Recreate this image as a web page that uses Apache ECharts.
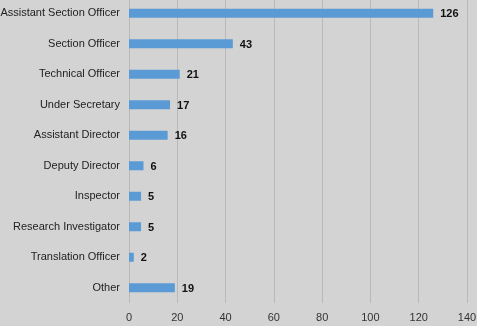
<!DOCTYPE html>
<html>
<head>
<meta charset="utf-8">
<style>
  html, body { margin: 0; padding: 0; background: #d3d3d3; }
  #chart { width: 477px; height: 326px; }
</style>
<script src="https://cdn.jsdelivr.net/npm/echarts@6/dist/echarts.min.js"></script>
</head>
<body>
<div id="chart"></div>
<script>
// Staff counts by designation (listed top to bottom)
const designations = [
  'Assistant Section Officer',
  'Section Officer',
  'Technical Officer',
  'Under Secretary',
  'Assistant Director',
  'Deputy Director',
  'Inspector',
  'Research Investigator',
  'Translation Officer',
  'Other'
];
const counts = [126, 43, 21, 17, 16, 6, 5, 5, 2, 19];
const axisTicks = [0, 20, 40, 60, 80, 100, 120, 140];

const chart = echarts.init(document.getElementById('chart'), null, { renderer: 'canvas' });
const font = '"Liberation Sans", Arial, sans-serif';

chart.setOption({
  backgroundColor: '#d3d3d3',
  animation: false,
  grid: {
    left: 129, right: 10, top: -2, bottom: 23,
    containLabel: false,
    outerBoundsMode: 'none'
  },
  xAxis: {
    type: 'value',
    min: axisTicks[0],
    max: axisTicks[axisTicks.length - 1],
    interval: axisTicks[1] - axisTicks[0],
    axisLine: { show: false },
    axisTick: { show: false },
    splitLine: { show: true, lineStyle: { color: '#b9b9b9', width: 1 } },
    axisLabel: { color: '#333', fontSize: 11, fontFamily: font, margin: 9 }
  },
  yAxis: {
    type: 'category',
    inverse: true,
    data: designations,
    axisLine: { show: false },
    axisTick: { show: false },
    axisLabel: { color: '#222', fontSize: 11, fontFamily: font, margin: 9 }
  },
  series: [{
    type: 'bar',
    data: counts,
    barWidth: 9,
    itemStyle: { color: '#5b9bd5' },
    label: {
      show: true,
      position: 'right',
      distance: 7,
      color: '#111',
      fontWeight: 'bold',
      fontSize: 11,
      fontFamily: font,
      offset: [0, 1]
    }
  }]
});
</script>
</body>
</html>
